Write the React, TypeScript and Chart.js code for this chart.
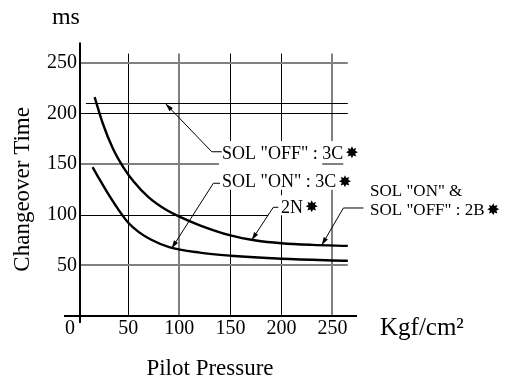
import React, { useEffect, useRef } from "react";
import { Chart, registerables } from "chart.js";

Chart.register(...registerables);

// ---- data ----
// Upper curve: SOL "OFF" : 3C / SOL "ON" & SOL "OFF" : 2B
const upperX = [17, 25, 35, 45, 55, 70, 85, 100, 120, 150, 175, 200, 230, 265];
const upperY = [216, 190, 165, 147, 133, 117, 106, 98, 89.5, 79.5, 74.5, 71.8, 70.2, 69.2];
// Lower curve: SOL "ON" : 3C / 2N
const lowerX = [15, 22, 30, 40, 50, 60, 72, 90, 120, 150, 200, 265];
const lowerY = [147, 134.5, 121, 105.5, 92, 83, 75.5, 68, 62.5, 59.5, 56.5, 54.5];

const xTicks = [50, 100, 150, 200, 250];
const yTicks = [50, 100, 150, 200, 250];
const refLine = 210;

const yTitle = "Changeover Time";
const xTitle = "Pilot Pressure";
const yUnit = "ms";
const xUnit = "Kgf/cm²";
const STAR = "✸";

// annotation texts
const labelA = 'SOL "OFF" : 3C';
const labelB = 'SOL "ON" : 3C';
const labelC = "2N";
const labelD1 = 'SOL "ON" &';
const labelD2 = 'SOL "OFF" : 2B';

// ---- layout / style ----
const SERIF = '"Liberation Serif", "Times New Roman", serif';
const STAR_FONT = 'bold 16px "DejaVu Sans", sans-serif';
const X_MIN = -13;
const X_MAX = 274;
const Y_MIN = -6.9;
const Y_MAX = 271.4;
const Y_AXIS_AT = 2.6;
const GRID_RIGHT = 265;
const GRID_TOP = 259;
const AXIS_TOP = 270;
const H_GRID_END: Record<number, number> = { 100: 187 };
const H_GRID_START: Record<number, number> = { 210: 8.5 };
const GREY_H = new Set([250, 150, 50]);
const GREY_V = new Set([100, 250]);
const BLACK = "#000";
const GREY = "#808080";

type Pt = [number, number];
type Label = { text: string; at: Pt; size: number; star: boolean };

const labels: Label[] = [
  { text: labelA, at: [141.8, 160.9], size: 18, star: true },
  { text: labelB, at: [141.8, 132.5], size: 18, star: true },
  { text: labelC, at: [199.6, 107.3], size: 18, star: true },
  { text: labelD1, at: [286.8, 123.7], size: 17, star: false },
  { text: labelD2, at: [286.8, 104.6], size: 17, star: true },
];
const boxGroups = [[0, 1], [2]];

const leaders: Pt[][] = [
  [[141.5, 162.1], [131.7, 162.1], [86.6, 209.4]],
  [[139.8, 131], [133.3, 131], [92.5, 66.8]],
  [[197, 107.3], [192, 107.3], [170.9, 75]],
  [[280.3, 106.6], [260.7, 106.6], [239.5, 70]],
];

function seg(ctx: CanvasRenderingContext2D, x1: number, y1: number, x2: number, y2: number, color: string, w: number) {
  ctx.beginPath();
  ctx.strokeStyle = color;
  ctx.lineWidth = w;
  ctx.moveTo(x1, y1);
  ctx.lineTo(x2, y2);
  ctx.stroke();
}
const snap = (p: number, w: number) => (w % 2 === 1 ? Math.round(p) + 0.5 : Math.round(p));

function labelExtent(ctx: CanvasRenderingContext2D, l: Label, X: (v: number) => number, Y: (v: number) => number) {
  ctx.font = `${l.size}px ${SERIF}`;
  const w = ctx.measureText(l.text).width;
  let end = X(l.at[0]) + w;
  if (l.star) {
    ctx.font = STAR_FONT;
    end += 2 + ctx.measureText(STAR).width;
  }
  return { left: X(l.at[0]), right: end, cy: Y(l.at[1]), textW: w };
}

const figurePlugin = {
  id: "figure",
  beforeDatasetsDraw(chart: any) {
    const ctx: CanvasRenderingContext2D = chart.ctx;
    const xs = chart.scales.x;
    const ys = chart.scales.y;
    const X = (v: number) => xs.getPixelForValue(v);
    const Y = (v: number) => ys.getPixelForValue(v);
    ctx.save();
    ctx.lineCap = "butt";
    // vertical grid
    xTicks.forEach((t) => {
      const g = GREY_V.has(t);
      const w = g ? 2 : 1;
      const px = snap(X(t), w);
      seg(ctx, px, Y(0), px, Y(GRID_TOP), g ? GREY : BLACK, w);
    });
    // horizontal grid
    yTicks.forEach((t) => {
      const g = GREY_H.has(t);
      const w = g ? 2 : 1;
      const s = H_GRID_START[t] ?? Y_AXIS_AT;
      const e = H_GRID_END[t] ?? GRID_RIGHT;
      const py = snap(Y(t), w);
      seg(ctx, X(s), py, X(e), py, g ? GREY : BLACK, w);
    });
    {
      const py = snap(Y(refLine), 1);
      seg(ctx, X(H_GRID_START[refLine] ?? Y_AXIS_AT), py, X(GRID_RIGHT), py, BLACK, 1);
    }

    // white boxes behind annotation labels
    ctx.fillStyle = "#fff";
    boxGroups.forEach((grp) => {
      const ex = grp.map((i) => labelExtent(ctx, labels[i], X, Y));
      const left = Math.min(...ex.map((e) => e.left)) - 3;
      const right = Math.max(...ex.map((e) => e.right)) + 2;
      const top = Math.min(...ex.map((e) => e.cy)) - 12;
      const bottom = Math.max(...ex.map((e) => e.cy)) + 8;
      ctx.fillRect(left, top, right - left, bottom - top);
    });
    // visible grid piece under "3C" of label A
    {
      const l = labels[0];
      ctx.font = `${l.size}px ${SERIF}`;
      const pre = ctx.measureText('SOL "OFF" : ').width;
      const w3 = ctx.measureText("3C").width;
      const x0 = X(l.at[0]) + pre;
      seg(ctx, x0, snap(Y(150), 2), x0 + w3, snap(Y(150), 2), GREY, 2);
    }

    // axes
    seg(ctx, X(X_MIN), snap(Y(0), 2), X(X_MAX), snap(Y(0), 2), "#000", 2);
    seg(ctx, snap(X(Y_AXIS_AT), 2), Y(Y_MIN), snap(X(Y_AXIS_AT), 2), Y(AXIS_TOP), "#000", 2);
    ctx.restore();
  },
  afterDatasetsDraw(chart: any) {
    const ctx: CanvasRenderingContext2D = chart.ctx;
    const xs = chart.scales.x;
    const ys = chart.scales.y;
    const X = (v: number) => xs.getPixelForValue(v);
    const Y = (v: number) => ys.getPixelForValue(v);
    ctx.save();
    ctx.fillStyle = "#000";

    // tick labels
    ctx.font = `20px ${SERIF}`;
    ctx.textBaseline = "middle";
    ctx.textAlign = "right";
    yTicks.forEach((t) => ctx.fillText(String(t), X(Y_AXIS_AT) - 3, Y(t)));
    ctx.textAlign = "center";
    xTicks.forEach((t) => ctx.fillText(String(t), X(t), Y(0) + 13));
    ctx.fillText("0", X(Y_AXIS_AT) - 10, Y(0) + 13);

    // units
    ctx.textAlign = "left";
    ctx.textBaseline = "alphabetic";
    ctx.font = `24px ${SERIF}`;
    ctx.fillText(yUnit, X(Y_AXIS_AT) - 28, Y(AXIS_TOP) - 18);
    ctx.font = `25px ${SERIF}`;
    ctx.fillText(xUnit, X(X_MAX) + 23, Y(0) + 19);

    // axis titles
    ctx.font = `23px ${SERIF}`;
    ctx.textAlign = "center";
    ctx.fillText(xTitle, X(130), Y(0) + 59);
    ctx.save();
    ctx.translate(22.5, Y(125));
    ctx.rotate(-Math.PI / 2);
    ctx.textBaseline = "middle";
    ctx.fillText(yTitle, 0, 0);
    ctx.restore();

    // leaders with arrowheads
    leaders.forEach((pts) => {
      ctx.beginPath();
      ctx.strokeStyle = "#000";
      ctx.lineWidth = 1;
      pts.forEach((p, i) => (i ? ctx.lineTo(X(p[0]), Y(p[1])) : ctx.moveTo(X(p[0]), Y(p[1]))));
      ctx.stroke();
      const a = pts[pts.length - 2];
      const b = pts[pts.length - 1];
      const bx = X(b[0]), by = Y(b[1]);
      const ang = Math.atan2(by - Y(a[1]), bx - X(a[0]));
      const L = 8, H = 2.4;
      ctx.beginPath();
      ctx.moveTo(bx, by);
      ctx.lineTo(bx - L * Math.cos(ang) + H * Math.sin(ang), by - L * Math.sin(ang) - H * Math.cos(ang));
      ctx.lineTo(bx - L * Math.cos(ang) - H * Math.sin(ang), by - L * Math.sin(ang) + H * Math.cos(ang));
      ctx.closePath();
      ctx.fill();
    });

    // labels
    ctx.textAlign = "left";
    ctx.textBaseline = "middle";
    labels.forEach((l) => {
      const ex = labelExtent(ctx, l, X, Y);
      ctx.font = `${l.size}px ${SERIF}`;
      ctx.fillText(l.text, ex.left, ex.cy + 1);
      if (l.star) {
        ctx.font = STAR_FONT;
        ctx.fillText(STAR, ex.left + ex.textW + 2, ex.cy + 1);
      }
    });
    ctx.restore();
  },
};

export default function App() {
  const ref = useRef<HTMLCanvasElement | null>(null);
  useEffect(() => {
    if (!ref.current) return;
    const chart = new Chart(ref.current, {
      type: "line",
      data: {
        datasets: [
          {
            label: "upper",
            data: upperX.map((x, i) => ({ x, y: upperY[i] })),
            borderColor: "#000",
            borderWidth: 2.4,
            pointRadius: 0,
            fill: false,
            cubicInterpolationMode: "monotone",
          },
          {
            label: "lower",
            data: lowerX.map((x, i) => ({ x, y: lowerY[i] })),
            borderColor: "#000",
            borderWidth: 2.4,
            pointRadius: 0,
            fill: false,
            cubicInterpolationMode: "monotone",
          },
        ],
      },
      options: {
        responsive: false,
        devicePixelRatio: 1,
        animation: false,
        layout: { padding: { left: 64, right: 149, top: 41, bottom: 55 } },
        plugins: { legend: { display: false }, tooltip: { enabled: false } },
        scales: {
          x: { type: "linear", display: false, min: X_MIN, max: X_MAX },
          y: { type: "linear", display: false, min: Y_MIN, max: Y_MAX },
        },
      },
      plugins: [figurePlugin],
    });
    return () => chart.destroy();
  }, []);
  return (
    <div style={{ position: "fixed", left: 0, top: 0, width: 506, height: 378, background: "#fff" }}>
      <canvas ref={ref} width={506} height={378} style={{ display: "block" }} />
    </div>
  );
}
